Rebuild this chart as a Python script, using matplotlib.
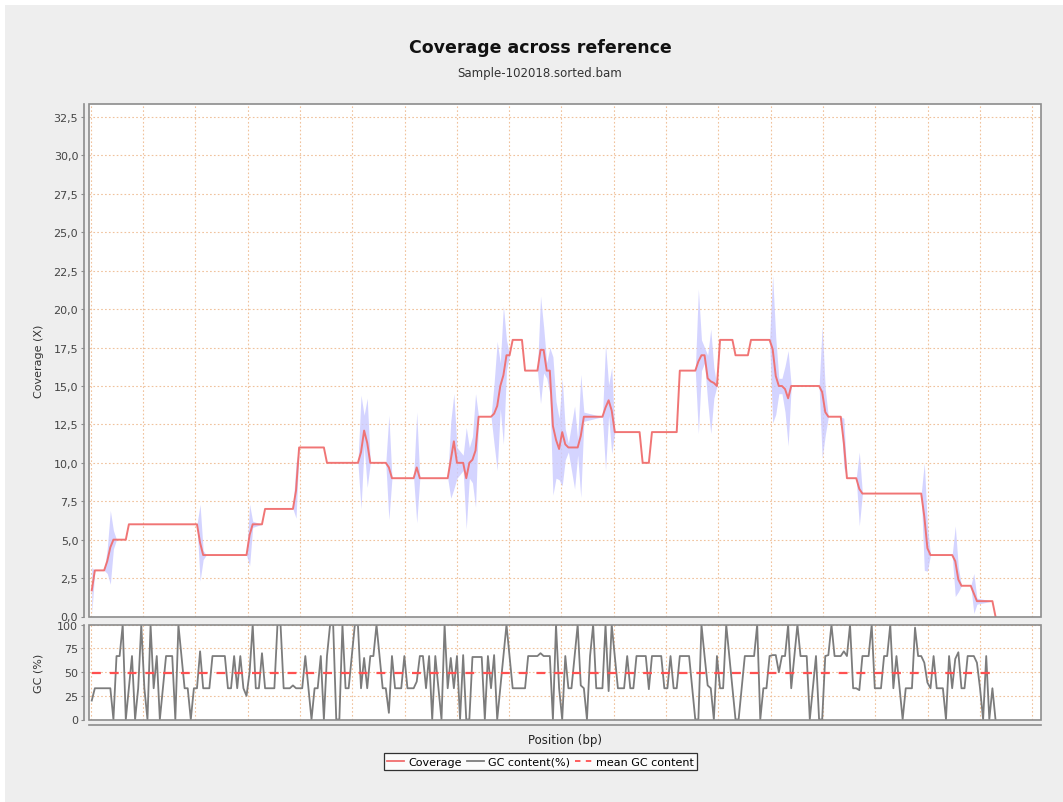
import matplotlib
matplotlib.use("Agg")
import matplotlib.pyplot as plt
from matplotlib.lines import Line2D
from matplotlib.patches import Rectangle
from matplotlib.ticker import MultipleLocator, FuncFormatter
import numpy as np

plt.rcParams['font.family'] = ['DejaVu Sans']

# GC content (%) per window, in order along the reference
gc_pct = [
    20, 33, 33, 33, 33, 33, 33, 0, 67, 67, 100, 0, 33, 67, 0, 33, 100, 33, 0, 100,
    33, 67, 0, 33, 67, 67, 67, 0, 100, 67, 33, 33, 0, 33, 33, 72, 33, 33, 33, 67,
    67, 67, 67, 67, 33, 33, 67, 33, 67, 33, 25, 50, 100, 33, 33, 70, 33, 33, 33, 33,
    100, 100, 33, 33, 33, 36, 33, 33, 33, 67, 33, 0, 33, 33, 67, 0, 67, 100, 100, 0,
    0, 100, 33, 33, 67, 100, 100, 33, 65, 33, 67, 67, 100, 67, 33, 33, 7, 67, 33, 33,
    33, 67, 33, 33, 33, 40, 67, 67, 33, 67, 0, 67, 33, 0, 100, 33, 65, 33, 67, 0,
    68, 0, 0, 66, 66, 66, 66, 0, 67, 33, 68, 0, 33, 67, 100, 67, 33, 33, 33, 33,
    33, 67, 67, 67, 67, 70, 67, 67, 67, 0, 100, 33, 0, 67, 33, 33, 67, 100, 36, 33,
    0, 67, 100, 33, 33, 33, 100, 30, 100, 67, 33, 33, 33, 67, 33, 33, 67, 67, 67, 67,
    32, 67, 67, 67, 67, 33, 33, 67, 33, 33, 67, 67, 67, 67, 33, 0, 0, 100, 67, 36,
    33, 0, 67, 33, 33, 100, 67, 33, 0, 0, 33, 67, 67, 67, 67, 100, 0, 33, 33, 67,
    68, 68, 50, 67, 67, 100, 33, 67, 100, 67, 67, 67, 0, 33, 67, 0, 0, 67, 68, 100,
    67, 67, 67, 72, 67, 100, 33, 33, 31, 67, 67, 67, 100, 33, 33, 33, 67, 67, 100, 33,
    67, 33, 0, 33, 33, 33, 97, 67, 67, 60, 39, 33, 67, 33, 33, 33, 0, 67, 33, 64,
    71, 33, 33, 67, 67, 67, 60, 33, 0, 67, 0, 33, 0,
]
gc_mean = 49.5

# coverage: window index, mean depth and its standard deviation
cov_win = [
    0, 1, 4, 5, 6, 7, 8, 11, 12, 34, 35, 36, 37, 50, 51, 52, 55, 56, 65, 66,
    67, 75, 76, 86, 87, 88, 89, 90, 95, 96, 97, 104, 105, 106, 115, 116, 117, 118, 120, 121,
    122, 123, 124, 125, 129, 130, 131, 132, 133, 134, 135, 136, 139, 140, 144, 145, 146, 147, 148, 149,
    150, 151, 152, 153, 154, 156, 157, 158, 159, 165, 166, 167, 168, 169, 177, 178, 180, 181, 189, 190,
    195, 196, 197, 198, 199, 200, 201, 202, 203, 207, 208, 212, 213, 219, 220, 221, 222, 223, 224, 225,
    226, 235, 236, 237, 238, 242, 243, 244, 247, 248, 249, 268, 269, 270, 271, 278, 279, 280, 281, 284,
    285, 286, 291, 292,
]
cov_mean = [
    1.7, 3.0, 3.0, 3.6, 4.5, 5.0, 5.0, 5.0, 6.0, 6.0, 4.8, 4.0, 4.0, 4.0, 5.3, 6.0, 6.0, 7.0, 7.0, 8.2,
    11.0, 11.0, 10.0, 10.0, 10.7, 12.1, 11.3, 10.0, 10.0, 9.7, 9.0, 9.0, 9.7, 9.0, 9.0, 10.2, 11.4, 10.0, 10.0, 9.0,
    10.0, 10.2, 10.8, 13.0, 13.0, 13.2, 13.7, 15.0, 15.7, 17.0, 17.0, 18.0, 18.0, 16.0, 16.0, 17.35, 17.35, 16.0, 16.0, 12.4,
    11.5, 10.9, 12.0, 11.2, 11.0, 11.0, 11.0, 11.75, 13.0, 13.0, 13.6, 14.07, 13.4, 12.0, 12.0, 10.0, 10.0, 12.0, 12.0, 16.0,
    16.0, 16.6, 17.0, 17.0, 15.5, 15.3, 15.2, 15.0, 18.0, 18.0, 17.0, 17.0, 18.0, 18.0, 17.4, 15.65, 15.0, 15.0, 14.8, 14.2,
    15.0, 15.0, 14.6, 13.3, 13.0, 13.0, 11.3, 9.0, 9.0, 8.3, 8.0, 8.0, 6.5, 4.45, 4.0, 4.0, 3.6, 2.4, 2.0, 2.0,
    1.5, 1.0, 1.0, 0.0,
]
cov_std = [
    1.5, 0.0, 0.0, 0.8, 2.4, 0.6, 0.0, 0.0, 0.0, 0.0, 2.5, 0.3, 0.0, 0.0, 2.0, 0.2, 0.0, 0.0, 0.0, 1.8,
    0.0, 0.0, 0.0, 0.0, 3.7, 1.0, 2.9, 0.0, 0.0, 3.4, 0.0, 0.0, 3.6, 0.0, 0.0, 2.5, 3.1, 1.0, 0.5, 3.3,
    1.0, 1.5, 3.7, 0.0, 0.0, 2.0, 4.2, 1.5, 4.5, 1.0, 0.0, 0.0, 0.0, 0.0, 0.0, 3.5, 1.5, 0.5, 1.5, 4.5,
    2.5, 2.0, 3.5, 1.0, 0.3, 2.7, 0.5, 4.0, 0.3, 0.0, 4.1, 1.0, 2.8, 0.0, 0.0, 0.0, 0.0, 0.0, 0.0, 0.0,
    0.0, 4.7, 1.0, 0.5, 1.5, 3.4, 1.0, 0.0, 0.0, 0.0, 0.0, 0.0, 0.0, 0.0, 4.8, 2.5, 0.5, 0.5, 1.5, 3.1,
    0.0, 0.0, 4.3, 1.5, 0.0, 0.0, 1.6, 0.0, 0.0, 2.4, 0.0, 0.0, 3.5, 1.5, 0.0, 0.0, 2.3, 0.8, 0.0, 0.0,
    1.3, 0.2, 0.0, 0.0,
]

# window centres along the reference (bp)
n_win = len(gc_pct)
positions = np.linspace(2, 1730, n_win)
cov_pos = positions[cov_win]
cov_mean = np.array(cov_mean)
cov_std = np.array(cov_std)

W, H = 1063, 803
fig = plt.figure(figsize=(W / 100, H / 100), dpi=100, facecolor='#EEEEEE')

# thin white margin along the top and left edges of the panel
fig.patches.append(Rectangle((0, 1 - 6 / H), 1, 6 / H, transform=fig.transFigure,
                             facecolor='white', edgecolor='none'))
fig.patches.append(Rectangle((0, 0), 5 / W, 1, transform=fig.transFigure,
                             facecolor='white', edgecolor='none'))


def fbox(left, top, right, bottom):
    """Pixel box -> figure fraction rect."""
    return [left / W, 1 - bottom / H, (right - left) / W, (bottom - top) / H]


ax = fig.add_axes(fbox(89.3, 105, 1041, 617.5))
ax_gc = fig.add_axes(fbox(89.3, 625.8, 1041, 720.5), sharex=ax)

grid_kw = dict(color='#F0C29C', linestyle=(0, (1.5, 2)), linewidth=0.8)
frame_c = '#8C8C8C'
tick_c = '#444444'

for a in (ax, ax_gc):
    a.set_facecolor('white')
    for s in ('top', 'right', 'bottom'):
        a.spines[s].set_visible(False)
    a.spines['left'].set_position(('outward', 4))
    a.spines['left'].set_color(frame_c)
    a.spines['left'].set_linewidth(1.2)
    a.add_patch(Rectangle((0, 0), 1, 1, transform=a.transAxes, fill=False,
                          edgecolor=frame_c, linewidth=1.2, clip_on=False, zorder=5))
    a.grid(True, **grid_kw)
    a.set_axisbelow(True)
    a.tick_params(axis='y', colors=frame_c, labelcolor=tick_c, labelsize=8,
                  length=2, width=0.8, pad=2)

# coverage panel: mean depth with a +/- std band
ax.fill_between(cov_pos, cov_mean - cov_std, cov_mean + cov_std,
                color='#CACAFF', alpha=0.8, linewidth=0)
ax.plot(cov_pos, cov_mean, color='#F06E6E', linewidth=1.4, alpha=0.95)
ax.set_ylim(0, 33.35)
ax.yaxis.set_major_locator(MultipleLocator(2.5))
ax.yaxis.set_major_formatter(FuncFormatter(lambda v, p: f'{v:.1f}'.replace('.', ',')))
ax.set_xlim(-2.7, 1817)
ax.xaxis.set_major_locator(MultipleLocator(100))
ax.tick_params(axis='x', bottom=False, labelbottom=False)
ax.set_ylabel('Coverage (X)', fontsize=8, color='#333333', labelpad=6)

# GC panel
ax_gc.plot(positions, gc_pct, color='#7C7C7C', linewidth=1.3)
ax_gc.axhline(gc_mean, xmin=(positions[0] + 2.7) / 1819.7, xmax=(positions[-1] + 2.7) / 1819.7,
              color='#FF5050', linestyle=(0, (4, 4)), linewidth=1.6)
ax_gc.set_ylim(0, 100)
ax_gc.yaxis.set_major_locator(MultipleLocator(25))
ax_gc.spines['bottom'].set_visible(True)
ax_gc.spines['bottom'].set_position(('outward', 4))
ax_gc.spines['bottom'].set_color(frame_c)
ax_gc.spines['bottom'].set_linewidth(1.2)
ax_gc.tick_params(axis='x', bottom=False, labelbottom=False)
ax_gc.set_ylabel('GC (%)', fontsize=8, color='#333333', labelpad=6)
ax_gc.set_xlabel('Position (bp)', fontsize=8.5, color='#222222', labelpad=6)

for a in (ax, ax_gc):
    a.yaxis.set_label_coords(-45.5 / (1041 - 89.3), 0.5)

fig.text(540 / W, 1 - 48 / H, 'Coverage across reference', ha='center', va='center',
         fontsize=12.5, fontweight='bold', color='#111111')
fig.text(540 / W, 1 - 74 / H, 'Sample-102018.sorted.bam', ha='center', va='center',
         fontsize=8.5, color='#333333')

handles = [
    Line2D([], [], color='#F06E6E', linewidth=1.3),
    Line2D([], [], color='#7C7C7C', linewidth=1.3),
    Line2D([], [], color='#FF5050', linewidth=1.3, linestyle=(0, (3, 3))),
]
leg = fig.legend(handles, ['Coverage', 'GC content(%)', 'mean GC content'],
                 loc='center', bbox_to_anchor=(540.5 / W, 1 - 762.7 / H), ncol=3,
                 fontsize=8, frameon=True, fancybox=False, handlelength=1.5,
                 handletextpad=0.35, columnspacing=0.5, borderpad=0.3, borderaxespad=0)
leg.get_frame().set_edgecolor('black')
leg.get_frame().set_linewidth(0.9)
leg.get_frame().set_facecolor('white')

fig.savefig('out.png', dpi=100, facecolor=fig.get_facecolor())
